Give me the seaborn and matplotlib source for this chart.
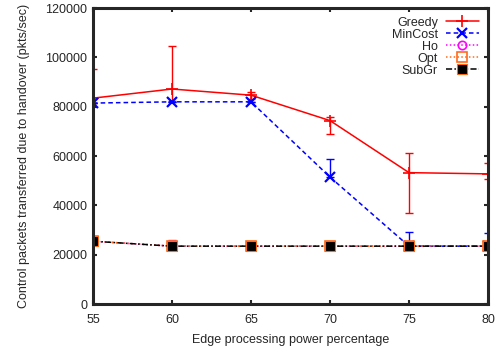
import matplotlib
matplotlib.use("Agg")
import matplotlib.pyplot as plt
import seaborn as sns
import numpy as np
import pandas as pd

x = [55, 60, 65, 70, 75, 80]
greedy = [83500, 87200, 84700, 74400, 53300, 52800]
greedy_lo = [2000, 5000, 1500, 5500, 16400, 2000]
greedy_hi = [12000, 17300, 1400, 1600, 8000, 4300]
mincost = [81500, 82000, 82000, 51500, 23500, 23500]
mincost_lo = [0, 0, 0, 0, 0, 0]
mincost_hi = [0, 0, 0, 7300, 5600, 5500]
ho = [25500, 23500, 23500, 23500, 23500, 23500]
ho_lo = [0, 0, 0, 0, 0, 0]
ho_hi = [0, 2600, 0, 0, 0, 0]
opt = [25500, 23500, 23500, 23500, 23500, 23500]
subgr = [25500, 23500, 23500, 23500, 23500, 23500]

sns.set_style("ticks")
plt.rcParams['font.family'] = ['Liberation Sans', 'DejaVu Sans']

fig = plt.figure(figsize=(5.0, 3.52), dpi=100)
ax = fig.add_axes([0.186, 0.136, 0.79, 0.841])

orange = "#ff6a1a"
series = [
    ("Greedy", greedy, (greedy_lo, greedy_hi), "-",
     dict(color="#ff0000", marker="+", markersize=8, mew=1.2, mfc="none", mec="#ff0000")),
    ("MinCost", mincost, (mincost_lo, mincost_hi), (0, (3, 2)),
     dict(color="#0000ff", marker="x", markersize=6.5, mew=1.6, mfc="none", mec="#0000ff")),
    ("Ho", ho, (ho_lo, ho_hi), (0, (1, 1.5)),
     dict(color="#ff00ff", marker="o", markersize=6, mew=1.2, mfc="none", mec="#ff00ff")),
    ("Opt", opt, None, (0, (1, 1.5)),
     dict(color=orange, marker="s", markersize=7, mew=1.2, mfc="none", mec=orange)),
    ("SubGr", subgr, None, (0, (4, 1.5, 1, 1.5)),
     dict(color="black", marker="s", markersize=7, mew=0.8, mfc="black", mec=orange)),
]

for name, vals, err, ls, st in series:
    if err is not None:
        ax.errorbar(x, vals, yerr=[err[0], err[1]], fmt="none", ecolor=st["color"],
                    elinewidth=1.0, capsize=3, capthick=1.0, linestyle=ls)
    df = pd.DataFrame({"x": x, "y": vals})
    sns.lineplot(data=df, x="x", y="y", ax=ax, label=name, linewidth=1.1,
                 linestyle=ls, **st)

ax.set_xlim(55, 80)
ax.set_ylim(0, 120000)
ax.set_xticks(x)
ax.set_yticks(np.arange(0, 120001, 20000))
ax.tick_params(direction="in", length=3, width=1.5, top=True, right=True, labelsize=9, pad=4)
ax.tick_params(axis="x", pad=7)
for s in ax.spines.values():
    s.set_linewidth(2.2)
    s.set_visible(True)
ax.set_xlabel("Edge processing power percentage", fontsize=9, labelpad=6)
ax.set_ylabel("Control packets transferred due to handover (pkts/sec)", fontsize=9, labelpad=11)

leg = ax.legend(loc="upper right", frameon=False, markerfirst=False, fontsize=9,
                handlelength=2.7, handletextpad=0.6, labelspacing=0.0,
                borderaxespad=0.3)

fig.savefig("out.png", dpi=100)
